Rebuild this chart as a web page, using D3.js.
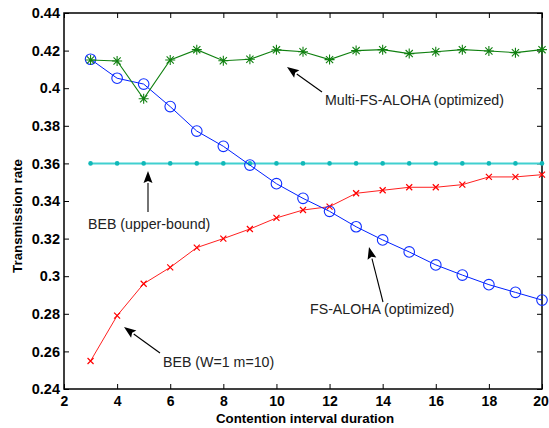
<!DOCTYPE html>
<html><head><meta charset="utf-8">
<script src="https://cdn.jsdelivr.net/npm/d3@7"></script>
<style>body{margin:0;background:#fff}</style>
</head><body>
<svg id="c" width="549" height="428"></svg>
<script>
const xs = [3,4,5,6,7,8,9,10,11,12,13,14,15,16,17,18,19,20];
const multiFS = [0.415,0.4145,0.3944,0.415,0.4205,0.4146,0.4154,0.4204,0.4194,0.4152,0.4200,0.4205,0.4184,0.4194,0.4205,0.4198,0.4189,0.4205];
const fsAloha = [0.4154,0.4053,0.4022,0.3902,0.3772,0.3691,0.3591,0.3492,0.3414,0.3345,0.3263,0.3193,0.3129,0.3060,0.3006,0.2955,0.2914,0.2873];
const bebUpper = [0.36,0.36,0.36,0.36,0.36,0.36,0.36,0.36,0.36,0.36,0.36,0.36,0.36,0.36,0.36,0.36,0.36,0.36];
const beb = [0.2549,0.2790,0.2960,0.3047,0.3152,0.3200,0.3251,0.3310,0.3352,0.3370,0.3441,0.3457,0.3473,0.3473,0.3487,0.3528,0.3528,0.3540];
const xTicks = [2,4,6,8,10,12,14,16,18,20];
const yTicks = [0.24,0.26,0.28,0.3,0.32,0.34,0.36,0.38,0.4,0.42,0.44];

const svg = d3.select('#c');
const L=64, R=542, T=13, B=389;
const x = d3.scaleLinear().domain([2,20]).range([L,R]);
const y = d3.scaleLinear().domain([0.24,0.44]).range([B,T]);
const font = '"Liberation Sans", Arial, Helvetica, sans-serif';

// box
svg.append('rect').attr('x',L).attr('y',T).attr('width',R-L).attr('height',B-T)
  .attr('fill','none').attr('stroke','#000').attr('stroke-width',1.5);

const fmt = d => String(+d.toFixed(2));
// axes
const gx = svg.append('g').attr('transform',`translate(0,${B})`)
  .call(d3.axisBottom(x).tickValues(xTicks).tickSize(-5).tickPadding(6).tickFormat(d=>d));
const gxt = svg.append('g').attr('transform',`translate(0,${T})`)
  .call(d3.axisTop(x).tickValues(xTicks).tickSize(-5).tickFormat(''));
const gy = svg.append('g').attr('transform',`translate(${L},0)`)
  .call(d3.axisLeft(y).tickValues(yTicks).tickSize(-5).tickPadding(4).tickFormat(fmt));
const gyr = svg.append('g').attr('transform',`translate(${R},0)`)
  .call(d3.axisRight(y).tickValues(yTicks).tickSize(-5).tickFormat(''));
[gx,gxt,gy,gyr].forEach(g=>{
  g.select('.domain').remove();
  g.selectAll('line').attr('stroke','#000').attr('stroke-width',1);
  g.selectAll('text').attr('font-family',font).attr('font-weight','bold').attr('font-size',14.5).attr('fill','#000');
});
gx.selectAll('text').attr('dy','0.75em').attr('font-size',14);
gx.selectAll('text').filter(d=>d===20).attr('dx',-1.5);

// axis titles
svg.append('text').attr('x',(L+R)/2+2).attr('y',423).attr('text-anchor','middle')
  .attr('font-family',font).attr('font-weight','bold').attr('font-size',13.3).text('Contention interval duration');
svg.append('text').attr('transform',`translate(22,216) rotate(-90)`).attr('text-anchor','middle')
  .attr('font-family',font).attr('font-weight','bold').attr('font-size',13.3).text('Transmission rate');

const line = d3.line().x((d,i)=>x(xs[i])).y(d=>y(d));

// cyan
svg.append('path').datum(bebUpper).attr('d',line).attr('fill','none').attr('stroke','#40d0d0').attr('stroke-width',2);
svg.selectAll('.cy').data(bebUpper).enter().append('circle')
  .attr('cx',(d,i)=>x(xs[i])).attr('cy',d=>y(d)).attr('r',2.3).attr('fill','#10b8b8');

// red
svg.append('path').datum(beb).attr('d',line).attr('fill','none').attr('stroke','#ff2020').attr('stroke-width',1);
beb.forEach((d,i)=>{
  const cx=x(xs[i]), cy=y(d), s=3;
  svg.append('path').attr('d',`M${cx-s},${cy-s}L${cx+s},${cy+s}M${cx-s},${cy+s}L${cx+s},${cy-s}`)
    .attr('stroke','#ff0000').attr('stroke-width',1.2);
});

// blue
svg.append('path').datum(fsAloha).attr('d',line).attr('fill','none').attr('stroke','#0020ff').attr('stroke-width',1);
svg.selectAll('.bl').data(fsAloha).enter().append('circle')
  .attr('cx',(d,i)=>x(xs[i])).attr('cy',d=>y(d)).attr('r',5.3)
  .attr('fill','none').attr('stroke','#1030ff').attr('stroke-width',1.1);

// green
svg.append('path').datum(multiFS).attr('d',line).attr('fill','none').attr('stroke','#108010').attr('stroke-width',1.1);
multiFS.forEach((d,i)=>{
  const cx=x(xs[i]), cy=y(d), s=5, t=3.6;
  svg.append('path').attr('d',`M${cx},${cy-s}L${cx},${cy+s}M${cx-s},${cy}L${cx+s},${cy}M${cx-t},${cy-t}L${cx+t},${cy+t}M${cx-t},${cy+t}L${cx+t},${cy-t}`)
    .attr('stroke','#108010').attr('stroke-width',1.1);
});

// annotations
function arrow(x1,y1,x2,y2){
  const a=Math.atan2(y2-y1,x2-x1), len=12, w=4.5;
  const bx=x2-len*Math.cos(a), by=y2-len*Math.sin(a);
  svg.append('line').attr('x1',x1).attr('y1',y1).attr('x2',bx).attr('y2',by).attr('stroke','#000').attr('stroke-width',1.1);
  const px=-Math.sin(a)*w, py=Math.cos(a)*w;
  svg.append('path').attr('d',`M${x2},${y2}L${bx+px},${by+py}L${bx+2*Math.cos(a)},${by+2*Math.sin(a)}L${bx-px},${by-py}Z`).attr('fill','#000');
}
function label(tx,ty,s){
  svg.append('text').attr('x',tx).attr('y',ty).attr('font-family',font).attr('font-size',14.2).attr('fill','#222').text(s);
}
arrow(322,92,287,67); label(325,105,'Multi-FS-ALOHA (optimized)');
arrow(148,212,148,171); label(88,229,'BEB (upper-bound)');
arrow(160,353,124,327); label(163,367,'BEB (W=1 m=10)');
arrow(383,302,369,247); label(310,314,'FS-ALOHA (optimized)');
</script>
</body></html>
